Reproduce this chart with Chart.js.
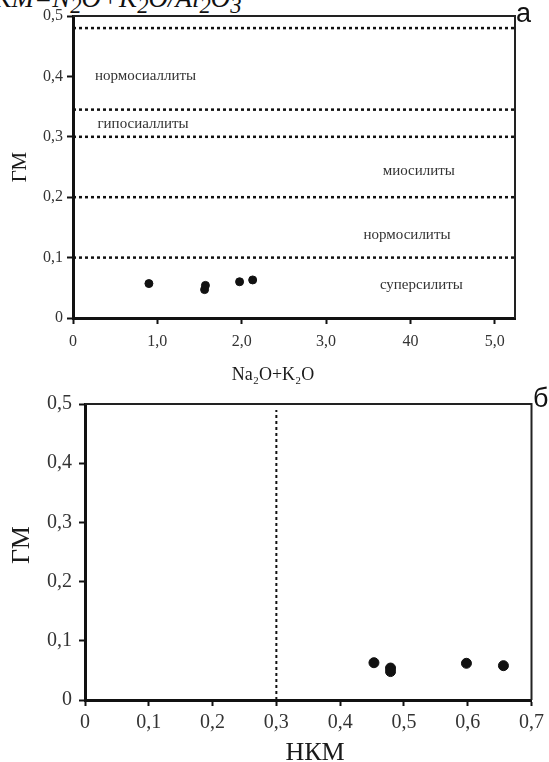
<!DOCTYPE html>
<html>
<head>
<meta charset="utf-8">
<script src="https://cdn.jsdelivr.net/npm/chart.js@4.4.1/dist/chart.umd.min.js"></script>
<style>
  body { margin: 0; background: #fff; width: 549px; height: 762px; overflow: hidden; position: relative; }
  #formula { position: absolute; left: -26px; top: -17px; font: italic 27px "Liberation Serif", serif; white-space: nowrap; color: #111; }
  #wa { position: absolute; left: 0; top: 0; }
  #wb { position: absolute; left: 0; top: 385px; }
</style>
</head>
<body>
<div id="formula">НКМ=N<sub>2</sub>O+K<sub>2</sub>O/Al<sub>2</sub>O<sub>3</sub></div>
<canvas id="wa" width="549" height="385"></canvas>
<canvas id="wb" width="549" height="377"></canvas>
<script>
// --- chart "а": ГМ vs Na2O+K2O ---
const alkA = [0.90, 1.56, 1.57, 1.975, 2.13];
const gmA = [0.057, 0.047, 0.054, 0.060, 0.063];
const bordersA = [0.48, 0.345, 0.3, 0.2, 0.1];
const zoneNames = ['нормосиаллиты', 'гипосиаллиты', 'миосилиты', 'нормосилиты', 'суперсилиты'];
const zoneAtX = [0.86, 0.83, 4.10, 3.96, 4.13];
const zoneAtY = [0.40, 0.321, 0.244, 0.138, 0.054];
const xLabelsA = ['0', '1,0', '2,0', '3,0', '40', '5,0'];
const xMaxA = 5.24;

// --- chart "б": ГМ vs НКМ ---
const nkmB = [0.453, 0.479, 0.479, 0.598, 0.656];
const gmB = [0.063, 0.054, 0.048, 0.062, 0.058];
const borderB = 0.3;
const xLabelsB = ['0', '0,1', '0,2', '0,3', '0,4', '0,5', '0,6', '0,7'];

const yLabels = ['0', '0,1', '0,2', '0,3', '0,4', '0,5'];

const serif = '"Liberation Serif", "Times New Roman", serif';

const deco = {
    id: 'deco',
    afterDatasetsDraw(chart, args, o) {
        const { ctx, chartArea: a, scales: { x, y } } = chart;
        ctx.save();
        // top and right frame
        ctx.strokeStyle = '#222';
        ctx.lineWidth = 2;
        ctx.beginPath();
        ctx.moveTo(a.left, a.top);
        ctx.lineTo(a.right, a.top);
        ctx.lineTo(a.right, a.bottom);
        ctx.stroke();

        ctx.fillStyle = '#333';
        ctx.textAlign = 'center';
        ctx.textBaseline = 'middle';
        ctx.font = '15px ' + serif;
        (o.zones || []).forEach(z => {
            ctx.fillText(z.text, x.getPixelForValue(z.x), y.getPixelForValue(z.y));
        });

        // axis titles
        ctx.fillStyle = '#1a1a1a';
        ctx.font = o.xTitle.font;
        ctx.fillText(o.xTitle.text, o.xTitle.cx, o.xTitle.cy);
        ctx.save();
        ctx.translate(o.yTitle.cx, o.yTitle.cy);
        ctx.rotate(-Math.PI / 2);
        ctx.font = o.yTitle.font;
        ctx.fillText(o.yTitle.text, 0, 0);
        ctx.restore();

        // panel letter
        ctx.fillStyle = '#111';
        ctx.textAlign = 'left';
        ctx.textBaseline = 'alphabetic';
        ctx.font = '27px "Liberation Sans", Arial, sans-serif';
        ctx.fillText(o.letter, o.letterX, o.letterY);
        ctx.restore();
    }
};

function dotted(points, width) {
    return {
        data: points,
        showLine: true,
        borderColor: '#111',
        borderWidth: width,
        borderDash: [3, 3],
        pointRadius: 0,
        fill: false,
    };
}

function axisOpts(min, max, step, labels, size, pad, fit) {
    return {
        type: 'linear',
        min: min,
        max: max,
        afterFit: fit,
        border: { display: true, color: '#111', width: 3 },
        grid: { drawOnChartArea: false, tickLength: 6, tickWidth: 2, color: '#111' },
        ticks: {
            stepSize: step,
            includeBounds: false,
            padding: pad,
            color: '#333',
            font: { family: serif, size: size },
            callback: v => labels[Math.round(v / step)],
        },
    };
}

const zonesA = zoneNames.map((t, i) => ({ text: t, x: zoneAtX[i], y: zoneAtY[i] }));

new Chart(document.getElementById('wa'), {
    type: 'scatter',
    data: {
        datasets: [
            ...bordersA.map(b => dotted([{ x: 0, y: b }, { x: xMaxA, y: b }], 2.5)),
            {
                data: alkA.map((v, i) => ({ x: v, y: gmA[i] })),
                backgroundColor: '#111',
                borderColor: '#111',
                pointRadius: 4,
            },
        ]
    },
    options: {
        responsive: false,
        animation: false,
        layout: { padding: { left: 0, right: 34, top: 16, bottom: 0 } },
        scales: {
            x: axisOpts(0, xMaxA, 1, xLabelsA, 16, 8, s => { s.height = 67; }),
            y: axisOpts(0, 0.5, 0.1, yLabels, 16, 4, s => { s.width = 73; }),
        },
        plugins: {
            legend: { display: false },
            tooltip: { enabled: false },
            deco: {
                zones: zonesA,
                xTitle: { text: 'Na₂O+K₂O', cx: 273, cy: 375, font: '18px ' + serif },
                yTitle: { text: 'ГМ', cx: 20, cy: 167, font: '21px ' + serif },
                letter: 'а', letterX: 516, letterY: 22,
            },
        },
    },
    plugins: [deco],
});

new Chart(document.getElementById('wb'), {
    type: 'scatter',
    data: {
        datasets: [
            dotted([{ x: borderB, y: 0 }, { x: borderB, y: 0.49 }], 2),
            {
                data: nkmB.map((v, i) => ({ x: v, y: gmB[i] })),
                backgroundColor: '#111',
                borderColor: '#111',
                pointRadius: 5,
            },
        ]
    },
    options: {
        responsive: false,
        animation: false,
        layout: { padding: { left: 0, right: 15, top: 8, bottom: 0 } },
        scales: {
            x: axisOpts(0, 0.7, 0.1, xLabelsB, 20, 5, s => { s.height = 62; }),
            y: axisOpts(0, 0.5, 0.1, yLabels, 20, 7, s => { s.width = 85; }),
        },
        plugins: {
            legend: { display: false },
            tooltip: { enabled: false },
            deco: {
                zones: [],
                xTitle: { text: 'НКМ', cx: 315, cy: 368, font: '26px ' + serif },
                yTitle: { text: 'ГМ', cx: 22, cy: 160, font: '26px ' + serif },
                letter: 'б', letterX: 533, letterY: 22,
            },
        },
    },
    plugins: [deco],
});
</script>
</body>
</html>
